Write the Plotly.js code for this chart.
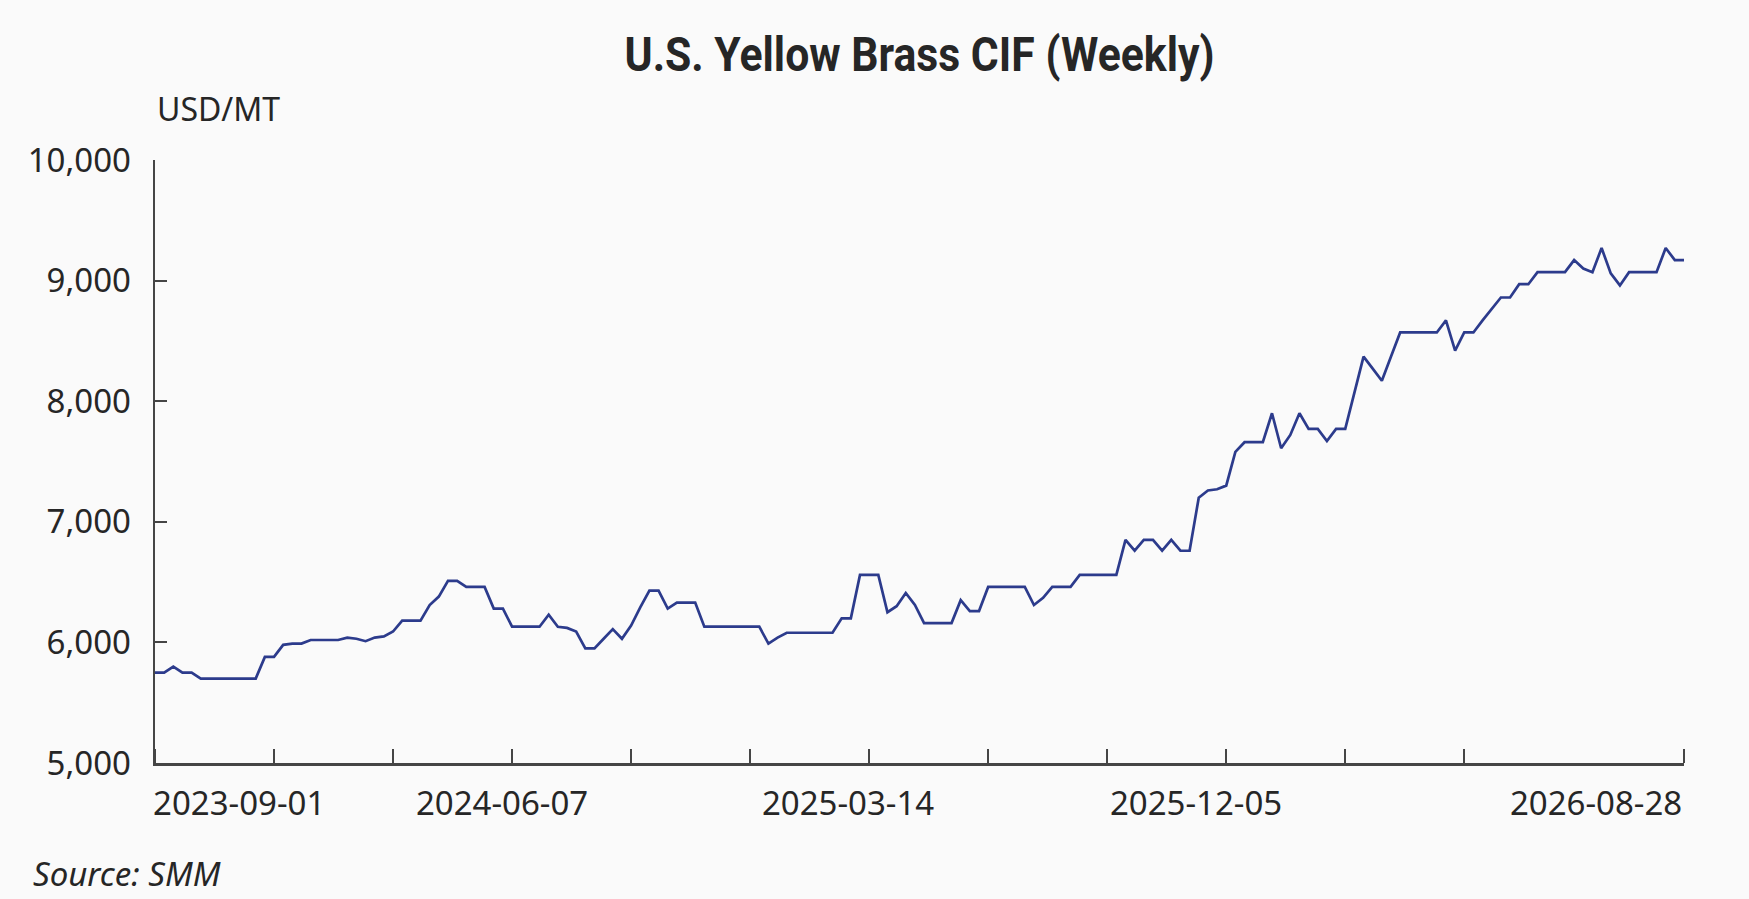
<!DOCTYPE html>
<html>
<head>
<meta charset="utf-8">
<script src="https://cdn.plot.ly/plotly-3.0.1.min.js"></script>
<style>
  html, body { margin: 0; padding: 0; background: #fafafa; }
  #chart { width: 1749px; height: 899px; }
</style>
</head>
<body>
<div id="chart"></div>
<script>
// Weekly CIF price, USD/MT
const prices = [
    5750, 5750, 5800, 5750, 5750, 5700, 5700, 5700, 5700, 5700,
    5700, 5700, 5880, 5880, 5980, 5990, 5990, 6020, 6020, 6020,
    6020, 6040, 6030, 6010, 6040, 6050, 6090, 6180, 6180, 6180,
    6310, 6380, 6510, 6510, 6460, 6460, 6460, 6280, 6280, 6130,
    6130, 6130, 6130, 6230, 6130, 6120, 6090, 5950, 5950, 6030,
    6110, 6030, 6140, 6290, 6430, 6430, 6280, 6330, 6330, 6330,
    6130, 6130, 6130, 6130, 6130, 6130, 6130, 5990, 6040, 6080,
    6080, 6080, 6080, 6080, 6080, 6200, 6200, 6560, 6560, 6560,
    6250, 6300, 6410, 6310, 6160, 6160, 6160, 6160, 6350, 6260,
    6260, 6460, 6460, 6460, 6460, 6460, 6310, 6370, 6460, 6460,
    6460, 6560, 6560, 6560, 6560, 6560, 6850, 6760, 6850, 6850,
    6760, 6850, 6760, 6760, 7200, 7260, 7270, 7300, 7580, 7660,
    7660, 7660, 7900, 7610, 7720, 7900, 7770, 7770, 7670, 7770,
    7770, 8070, 8370, 8270, 8170, 8370, 8570, 8570, 8570, 8570,
    8570, 8670, 8420, 8570, 8570, 8670, 8770, 8860, 8860, 8970,
    8970, 9070, 9070, 9070, 9070, 9170, 9100, 9070, 9270, 9060,
    8960, 9070, 9070, 9070, 9070, 9270, 9170, 9170
];

// x axis: date labels (where the source chart prints them) and tick marks, in week index
const tickLabels   = ['2023-09-01', '2024-06-07', '2025-03-14', '2025-12-05', '2026-08-28'];
const tickLabelPos = [9.2, 37.9, 75.7, 113.7, 157.4];
const tickMarks    = [0, 13, 26, 39, 52, 65, 78, 91, 104, 117, 130, 143, 167];

const yTicks = [5000, 6000, 7000, 8000, 9000, 10000];

const axisColor = '#454545';
const textColor = '#262626';
const baseFont = 'Noto Sans, Open Sans, sans-serif';

const trace = {
    y: prices,
    type: 'scatter', mode: 'lines',
    line: { color: '#2c3b8c', width: 2.7 },
    hoverinfo: 'y'
};

const layout = {
    width: 1749, height: 899,
    paper_bgcolor: '#fafafa',
    plot_bgcolor: '#fafafa',
    margin: { t: 160, b: 136, l: 155, r: 65 },
    showlegend: false,
    font: { family: baseFont, size: 33, color: textColor },

    title: {
        text: 'U.S. Yellow Brass CIF (Weekly)',
        font: { family: 'Roboto, Liberation Sans, sans-serif', size: 48, weight: 700, color: '#262626' },
        xref: 'paper', x: 0.5, xanchor: 'center',
        yref: 'container', y: 0.94, yanchor: 'middle'
    },

    xaxis: {
        range: [0, prices.length - 1],
        fixedrange: true,
        showgrid: false, zeroline: false,
        showline: true, linecolor: axisColor, linewidth: 2.5,
        tickmode: 'array', tickvals: tickLabelPos, ticktext: tickLabels,
        ticks: '',
        ticklabelstandoff: 10,
        tickfont: { family: baseFont, size: 33, color: textColor },
        minor: {
            tickmode: 'array', tickvals: tickMarks,
            ticks: 'inside', ticklen: 14, tickwidth: 2, tickcolor: axisColor,
            showgrid: false
        }
    },
    yaxis: {
        range: [5000, 10000],
        fixedrange: true,
        showgrid: false, zeroline: false,
        showline: true, linecolor: axisColor, linewidth: 2.5,
        tickmode: 'array', tickvals: yTicks,
        tickformat: ',d',
        ticks: 'inside', ticklen: 12, tickwidth: 2, tickcolor: axisColor,
        ticklabelstandoff: 15,
        tickfont: { family: baseFont, size: 33, color: textColor }
    },

    annotations: [
        // unit label above the y axis
        { xref: 'paper', yref: 'paper', x: 0, y: 1, xanchor: 'left', yanchor: 'middle',
          yshift: 52, text: 'USD/MT', showarrow: false,
          font: { family: baseFont, size: 32, color: textColor } },
        // source note, bottom left
        { xref: 'paper', yref: 'paper', x: 0, y: 0, xanchor: 'left', yanchor: 'middle',
          xshift: -124, yshift: -110, text: 'Source: SMM', showarrow: false,
          font: { family: baseFont, size: 33, color: textColor, style: 'italic' } }
    ]
};

Plotly.newPlot('chart', [trace], layout, { displayModeBar: false, staticPlot: true })
    .then(gd => {
        // the source title is set in a narrow bold face; squeeze Roboto Bold to the same width
        const t = gd.querySelector('.gtitle');
        if (t) {
            t.setAttribute('textLength', 590);
            t.setAttribute('lengthAdjust', 'spacingAndGlyphs');
        }
    });
</script>
</body>
</html>
